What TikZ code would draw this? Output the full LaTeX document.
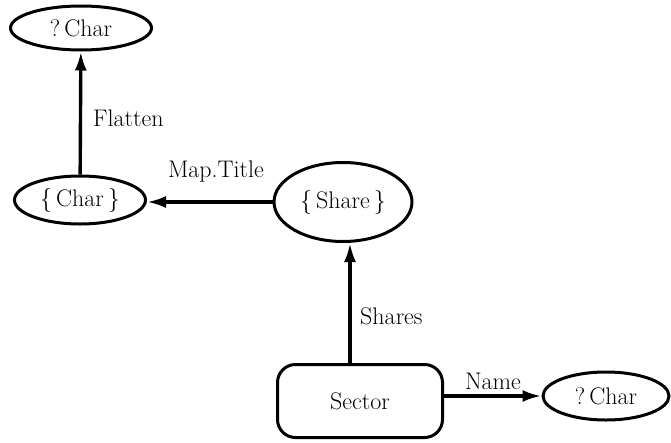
\documentclass[tikz,border=0pt]{standalone}
\usetikzlibrary{arrows.meta,shapes.geometric}
\tikzset{
    typeset/.style={ellipse,draw,line width=3pt,inner sep=0pt},
    typebox/.style={rectangle,draw,line width=3pt,rounded corners=18pt,inner sep=0pt},
    link/.style={line width=3.4pt,-{Latex[length=19pt,width=12pt]}},
    linklabel/.style={inner sep=0pt}
}

\begin{document}
\begin{tikzpicture}[x=1pt,y=-1pt,font=\fontsize{24}{28}\selectfont]
\useasboundingbox (0,0) rectangle (671,442);

% type nodes
\node[typeset,minimum width=141pt,minimum height=44pt] (chartop) at (81,28) {?\,Char};
\node[typeset,minimum width=131pt,minimum height=48pt] (charset) at (80,200) {\{\,Char\,\}};
\node[typeset,minimum width=138pt,minimum height=79pt] (shareset) at (343,202) {\{\,Share\,\}};
\node[typebox,minimum width=165pt,minimum height=73pt] (sector) at (360,401) {Sector};
\node[typeset,minimum width=126pt,minimum height=48pt] (charname) at (606,396) {?\,Char};

% arrows
\draw[link] (charset) -- (chartop);
\draw[link] (shareset.west) -- (shareset.west -| charset.east);
\draw[link] ([xshift=-10pt]sector.north) -- ([xshift=-10pt]sector.north |- shareset.south);
\draw[link] (sector.east |- charname.west) -- (charname.west);

% labels
\node[linklabel,anchor=west] (flatten) at (93,118) {Flatten};
\node[linklabel] (maptitle) at (216,172) {Map.Title};
\node[linklabel,anchor=west] (shares) at (360,316) {Shares};
\node[linklabel] (name) at (493,381) {Name};

\end{tikzpicture}
\end{document}
